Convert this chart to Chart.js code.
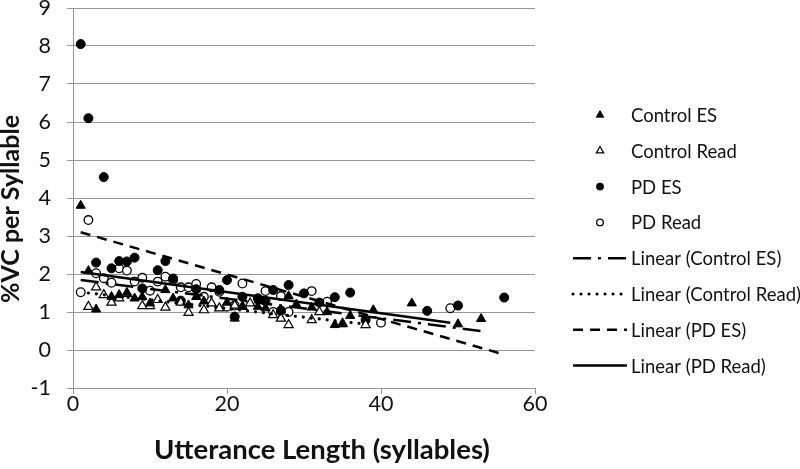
<!DOCTYPE html>
<html>
<head>
<meta charset="utf-8">
<script src="https://cdn.jsdelivr.net/npm/chart.js@4.4.1/dist/chart.umd.min.js"></script>
<style>
  html, body { margin: 0; padding: 0; background: #fff; }
</style>
</head>
<body>
<canvas id="vcChart" width="800" height="469"></canvas>
<script>
// values
const controlEsX = [1, 2, 3, 5, 6, 7, 8, 9, 10, 12, 13, 15, 16, 17, 20, 21, 22, 24, 25, 27, 28, 29, 31, 33, 34, 35, 36, 39, 44, 50, 53];
const controlEsY = [3.8, 2.08, 1.07, 1.4, 1.45, 1.51, 1.36, 1.4, 1.23, 1.58, 1.36, 1.18, 1.4, 1.28, 1.25, 0.83, 1.15, 1.14, 1.1, 1.05, 1.42, 1.2, 1.12, 1.0, 0.66, 0.68, 0.9, 1.05, 1.23, 0.68, 0.82];

const controlReadX = [2, 3, 4, 5, 6, 7, 9, 10, 11, 12, 14, 15, 17, 18, 19, 21, 22, 23, 26, 27, 28, 31, 32, 35, 38];
const controlReadY = [1.14, 1.65, 1.45, 1.25, 1.36, 1.48, 1.16, 1.16, 1.32, 1.12, 1.25, 0.98, 1.05, 1.23, 1.1, 1.17, 1.14, 1.23, 0.92, 0.83, 0.66, 0.79, 1.0, 0.7, 0.66];

const pdEsX = [1, 2, 3, 4, 5, 6, 7, 8, 9, 11, 12, 13, 14, 16, 19, 20, 21, 22, 24, 25, 26, 27, 28, 30, 32, 34, 36, 38, 46, 50, 56];
const pdEsY = [8.05, 6.1, 2.3, 4.55, 2.15, 2.34, 2.33, 2.43, 1.62, 2.1, 2.34, 1.88, 1.3, 1.6, 1.58, 1.84, 0.88, 1.4, 1.36, 1.29, 1.58, 1.04, 1.71, 1.49, 1.25, 1.39, 1.51, 0.79, 1.03, 1.17, 1.38];

const pdReadX = [1, 2, 3, 4, 5, 6, 7, 8, 9, 10, 11, 12, 13, 14, 15, 16, 17, 18, 19, 20, 21, 22, 25, 26, 27, 28, 31, 33, 40, 49];
const pdReadY = [1.52, 3.42, 2.02, 1.89, 1.77, 2.15, 2.09, 1.8, 1.9, 1.56, 1.8, 1.93, 1.84, 1.65, 1.65, 1.74, 1.4, 1.65, 1.53, 1.14, 1.17, 1.75, 1.55, 1.0, 1.42, 1.0, 1.55, 1.27, 0.72, 1.1];

// trendline end points, as drawn in the picture
const controlEsTrendX = [1, 53];
const controlEsTrendY = [1.84, 0.5];
const controlReadTrendX = [2, 38];
const controlReadTrendY = [1.5, 0.68];
const pdEsTrendX = [1, 56];
const pdEsTrendY = [3.1, -0.12];
const pdReadTrendX = [1, 49];
const pdReadTrendY = [2.05, 0.72];

const xTicks = [0, 20, 40, 60];
const yMin = -1, yMax = 9;

const gridGray = '#969696';
const inkColor = '#111';

function pts(xs, ys) {
    return xs.map((x, i) => ({ x: x, y: ys[i] }));
}

// legend down the right side, plus the two axis titles
const sideTexts = {
    id: 'sideTexts',
    afterDraw(chart) {
        const ctx = chart.ctx;
        ctx.save();
        ctx.textBaseline = 'middle';
        ctx.fillStyle = inkColor;
        ctx.font = '18.5px Lato';
        chart.data.datasets.forEach(function(ds, i) {
            const y = 115 + i * 35.8;
            if (ds.showLine) {
                ctx.save();
                ctx.strokeStyle = ds.borderColor;
                ctx.lineWidth = ds.borderWidth;
                ctx.lineCap = ds.borderCapStyle;
                ctx.setLineDash(ds.borderDash);
                ctx.beginPath();
                ctx.moveTo(573, y);
                ctx.lineTo(627, y);
                ctx.stroke();
                ctx.restore();
            } else {
                ctx.save();
                ctx.fillStyle = ds.backgroundColor;
                ctx.strokeStyle = ds.borderColor;
                ctx.lineWidth = ds.borderWidth;
                Chart.helpers.drawPoint(ctx, {
                    pointStyle: ds.pointStyle,
                    radius: ds.pointRadius - 1,
                    rotation: 0,
                    borderWidth: ds.borderWidth
                }, 600, y);
                ctx.restore();
            }
            ctx.textAlign = 'left';
            ctx.fillText(ds.label, 631, y + 1);
        });

        ctx.textAlign = 'center';
        ctx.font = 'bold 27.5px Lato';
        ctx.fillText('Utterance Length (syllables)', 322, 450);
        ctx.font = 'bold 25px Lato';
        ctx.translate(11, 209);
        ctx.rotate(-Math.PI / 2);
        ctx.fillText('%VC per Syllable', 0, 0);
        ctx.restore();
    }
};

const lineBase = {
    showLine: true,
    pointRadius: 0,
    pointHoverRadius: 0,
    borderColor: '#000',
    backgroundColor: '#000',
    borderWidth: 2.5,
    borderCapStyle: 'butt',
    fill: false,
    order: 0
};

new Chart(document.getElementById('vcChart'), {
    type: 'scatter',
    data: {
        datasets: [
            {
                label: 'Control ES',
                data: pts(controlEsX, controlEsY),
                pointStyle: 'triangle',
                pointRadius: 5.3,
                backgroundColor: '#000',
                borderColor: '#000',
                borderWidth: 1,
                order: 1
            },
            {
                label: 'Control Read',
                data: pts(controlReadX, controlReadY),
                pointStyle: 'triangle',
                pointRadius: 5.3,
                backgroundColor: '#fff',
                borderColor: '#000',
                borderWidth: 1.2,
                order: 1
            },
            {
                label: 'PD ES',
                data: pts(pdEsX, pdEsY),
                pointStyle: 'circle',
                pointRadius: 4.5,
                backgroundColor: '#000',
                borderColor: '#000',
                borderWidth: 1,
                order: 1
            },
            {
                label: 'PD Read',
                data: pts(pdReadX, pdReadY),
                pointStyle: 'circle',
                pointRadius: 4.3,
                backgroundColor: '#fff',
                borderColor: '#000',
                borderWidth: 1.3,
                order: 1
            },
            Object.assign({}, lineBase, {
                label: 'Linear (Control ES)',
                data: pts(controlEsTrendX, controlEsTrendY),
                borderDash: [18, 7, 3, 7]
            }),
            Object.assign({}, lineBase, {
                label: 'Linear (Control Read)',
                data: pts(controlReadTrendX, controlReadTrendY),
                borderWidth: 3.2,
                borderCapStyle: 'round',
                borderDash: [0.01, 8]
            }),
            Object.assign({}, lineBase, {
                label: 'Linear (PD ES)',
                data: pts(pdEsTrendX, pdEsTrendY),
                borderDash: [10, 7]
            }),
            Object.assign({}, lineBase, {
                label: 'Linear (PD Read)',
                data: pts(pdReadTrendX, pdReadTrendY),
                borderDash: []
            })
        ]
    },
    options: {
        responsive: false,
        animation: false,
        events: [],
        layout: { padding: { top: 8, right: 265, bottom: 0, left: 0 } },
        plugins: {
            legend: { display: false },
            tooltip: { enabled: false }
        },
        scales: {
            x: {
                type: 'linear',
                min: 0,
                max: 60,
                afterBuildTicks: function(scale) {
                    scale.ticks = xTicks.map(v => ({ value: v }));
                },
                afterFit: function(scale) {
                    scale.height = 81;
                },
                grid: { drawOnChartArea: false, drawTicks: true, tickLength: 6, color: gridGray },
                border: { display: true, color: gridGray, width: 1 },
                ticks: {
                    font: { family: 'Lato', size: 21.5 },
                    color: inkColor,
                    padding: -3,
                    maxRotation: 0
                }
            },
            y: {
                type: 'linear',
                min: yMin,
                max: yMax,
                afterFit: function(scale) {
                    scale.width = 73;
                    scale.paddingTop = 0;
                    scale.paddingBottom = 0;
                },
                grid: { color: gridGray, tickLength: 6, lineWidth: 1 },
                border: { display: true, color: gridGray, width: 1 },
                ticks: {
                    stepSize: 1,
                    font: { family: 'Lato', size: 21.5 },
                    color: inkColor,
                    padding: 16
                }
            }
        }
    },
    plugins: [sideTexts]
});
</script>
</body>
</html>
